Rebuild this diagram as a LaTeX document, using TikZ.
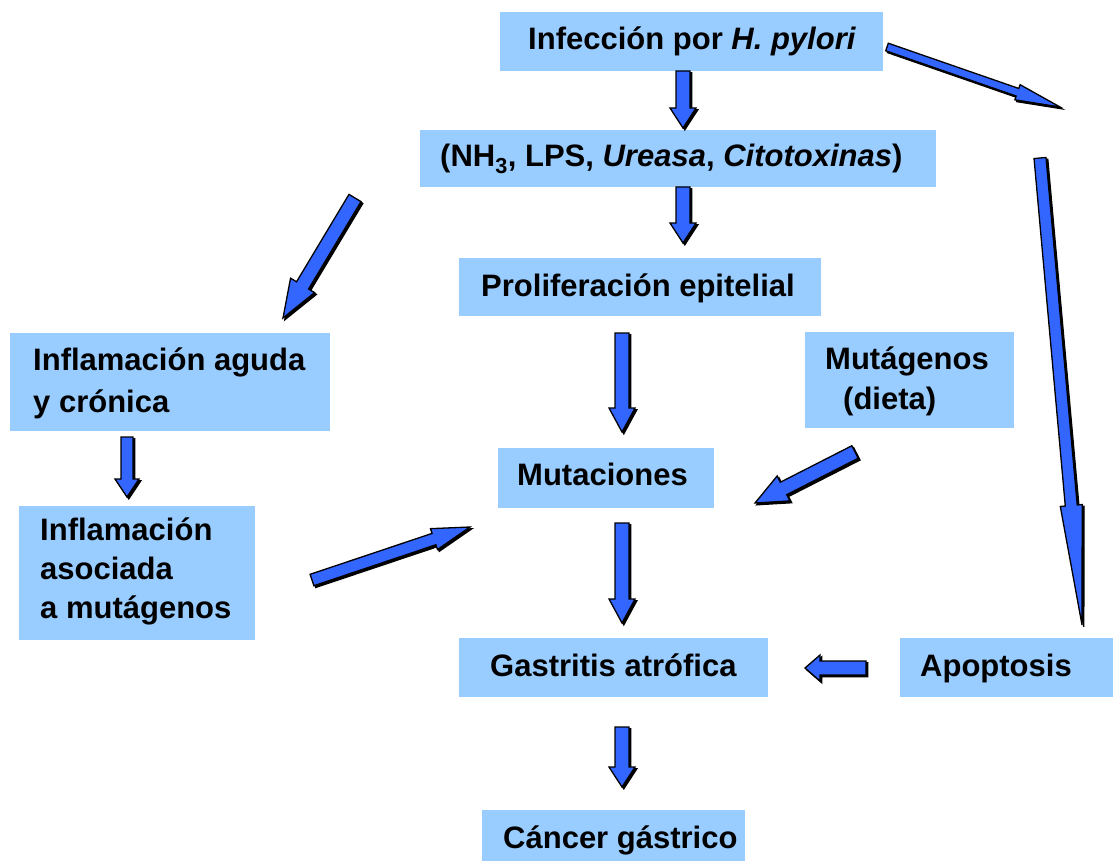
\documentclass[tikz,border=0pt]{standalone}
\usepackage{fontspec}
\setmainfont{Liberation Sans}
\usetikzlibrary{calc}
\definecolor{boxblue}{RGB}{153,204,255}
\definecolor{arrblue}{RGB}{51,102,255}
\tikzset{
  box/.style={fill=boxblue, draw=none, inner sep=0pt, anchor=north west},
  lbl/.style={anchor=base west, inner sep=0pt, align=left, font=\fontsize{31}{40}\selectfont\bfseries},
  barrowst/.style={fill=arrblue, draw=black, line width=1.3pt, line join=miter},
  bshadow/.style={fill=black, draw=black, line width=1.3pt, transform canvas={shift={(1.8pt,-1.8pt)}}},
}
% #1 tail, #2 tip, #3 half shaft width, #4 half head width, #5 head length
\newcommand{\blockarrow}[5]{%
  \coordinate (bh) at ($(#2)!#5!(#1)$);
  \draw[bshadow] ($(#1)!#3!90:(#2)$) -- ($(bh)!#3!-90:(#1)$) -- ($(bh)!#4!-90:(#1)$) -- (#2) -- ($(bh)!#4!90:(#1)$) -- ($(bh)!#3!90:(#1)$) -- ($(#1)!#3!-90:(#2)$) -- cycle;
  \draw[barrowst] ($(#1)!#3!90:(#2)$) -- ($(bh)!#3!-90:(#1)$) -- ($(bh)!#4!-90:(#1)$) -- (#2) -- ($(bh)!#4!90:(#1)$) -- ($(bh)!#3!90:(#1)$) -- ($(#1)!#3!-90:(#2)$) -- cycle;
}
\begin{document}
\begin{tikzpicture}[x=1pt,y=-1pt]
\useasboundingbox (0,0) rectangle (1113,861);
% boxes
\node[box, minimum width=383pt, minimum height=59pt] (inf) at (500,12) {};
\node[box, minimum width=516pt, minimum height=57pt] (fac) at (420,130) {};
\node[box, minimum width=362pt, minimum height=58pt] (pro) at (459,258) {};
\node[box, minimum width=320pt, minimum height=98pt] (iac) at (10,333) {};
\node[box, minimum width=209pt, minimum height=96pt] (mdi) at (805,332) {};
\node[box, minimum width=216pt, minimum height=60pt] (mut) at (498,448) {};
\node[box, minimum width=236pt, minimum height=134pt] (iam) at (19,506) {};
\node[box, minimum width=309pt, minimum height=59pt] (gas) at (459,638) {};
\node[box, minimum width=213pt, minimum height=59pt] (apo) at (900,638) {};
\node[box, minimum width=263pt, minimum height=51pt] (can) at (482,810) {};
% texts (multi-line: base = last line)
\node[lbl] (inf-t) at (528,50) {Infección por \textit{H. pylori}};
\node[lbl] (fac-t) at (440,167) {(NH\textsubscript{3}, LPS, \textit{Ureasa}, \textit{Citotoxinas})};
\node[lbl] (pro-t) at (481,296) {Proliferación epitelial};
\node[lbl, font=\fontsize{31}{42}\selectfont\bfseries] (iac-t) at (33,412) {Inflamación~aguda\\y~crónica};
\node[lbl, font=\fontsize{31}{40}\selectfont\bfseries] (mdi-t) at (825,409) {Mutágenos\\\hspace*{18pt}(dieta)};
\node[lbl] (mut-t) at (517,485) {Mutaciones};
\node[lbl, font=\fontsize{31}{39}\selectfont\bfseries] (iam-t) at (40,618) {Inflamación\\asociada\\a~mutágenos};
\node[lbl] (gas-t) at (490,676) {Gastritis atrófica};
\node[lbl] (apo-t) at (920,676) {Apoptosis};
\node[lbl] (can-t) at (503,848) {Cáncer gástrico};
% arrow end points
\coordinate (a1s) at (683,71);   \coordinate (a1e) at (683,128);
\coordinate (a2s) at (887,47);   \coordinate (a2e) at (1060,107);
\coordinate (a3s) at (683,187);  \coordinate (a3e) at (683,243);
\coordinate (a4s) at (355,198);  \coordinate (a4e) at (283,318);
\coordinate (a5s) at (1040,158); \coordinate (a5e) at (1082,625);
\coordinate (a6s) at (622,333);  \coordinate (a6e) at (622,432);
\coordinate (a7s) at (127,437);  \coordinate (a7e) at (127,497);
\coordinate (a8s) at (855,452);  \coordinate (a8e) at (755,503);
\coordinate (a9s) at (312,580);  \coordinate (a9e) at (470,527);
\coordinate (a10s) at (622,523); \coordinate (a10e) at (622,623);
\coordinate (a11s) at (866,668); \coordinate (a11e) at (805,668);
\coordinate (a12s) at (622,727); \coordinate (a12e) at (622,787);
% arrows
\blockarrow{a1s}{a1e}{7pt}{13pt}{20pt}
\blockarrow{a2s}{a2e}{4pt}{8pt}{45pt}
\blockarrow{a3s}{a3e}{7pt}{13pt}{20pt}
\blockarrow{a4s}{a4e}{7pt}{14pt}{38pt}
\blockarrow{a5s}{a5e}{6pt}{11pt}{120pt}
\blockarrow{a6s}{a6e}{7pt}{13pt}{24pt}
\blockarrow{a7s}{a7e}{6pt}{12pt}{18pt}
\blockarrow{a8s}{a8e}{7pt}{14pt}{32pt}
\blockarrow{a9s}{a9e}{6pt}{11pt}{38pt}
\blockarrow{a10s}{a10e}{7pt}{13pt}{24pt}
\blockarrow{a11s}{a11e}{7pt}{13pt}{15pt}
\blockarrow{a12s}{a12e}{7pt}{13pt}{20pt}
\end{tikzpicture}
\end{document}
